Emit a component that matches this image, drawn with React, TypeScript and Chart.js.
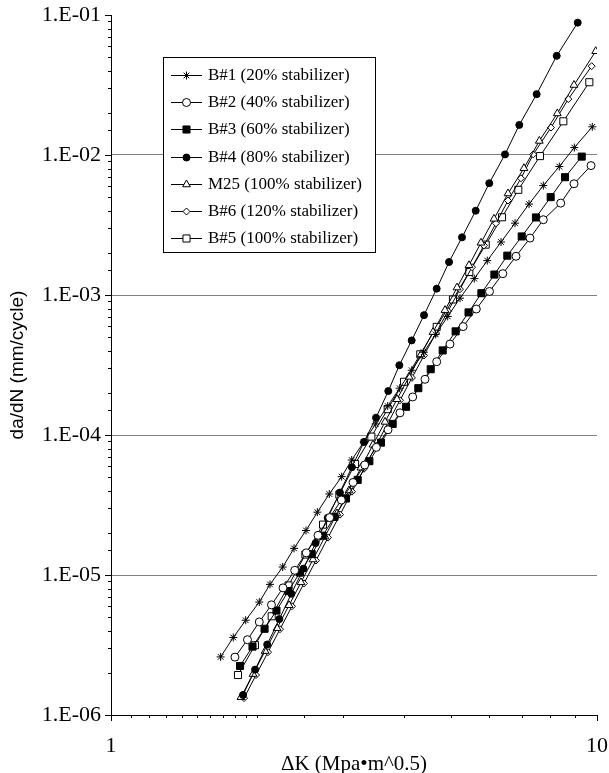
import React, { useEffect, useRef } from 'react';
import { Chart, registerables } from 'chart.js';
import { drawPoint } from 'chart.js/helpers';

Chart.register(...registerables);

// ---------- data ----------
const seriesLabels = [
  'B#1 (20% stabilizer)',
  'B#2 (40% stabilizer)',
  'B#3 (60% stabilizer)',
  'B#4 (80% stabilizer)',
  'M25 (100% stabilizer)',
  'B#6 (120% stabilizer)',
  'B#5 (100% stabilizer)',
];

const b1X = [1.681, 1.785, 1.893, 2.019, 2.124, 2.256, 2.38, 2.519, 2.658, 2.813, 2.983, 3.128, 3.311, 3.504, 3.71, 3.926, 4.156, 4.4, 4.657, 4.93, 5.225, 5.591, 5.946, 6.346, 6.782, 7.246, 7.754, 8.364, 8.982, 9.779];
const b1Y = [2.6e-6, 3.58e-6, 4.75e-6, 6.41e-6, 8.57e-6, 1.14e-5, 1.55e-5, 2.08e-5, 2.81e-5, 3.79e-5, 5.04e-5, 6.63e-5, 8.9e-5, 1.2e-4, 1.61e-4, 2.16e-4, 2.9e-4, 3.9e-4, 5.23e-4, 7.03e-4, 9.49e-4, 1.31e-3, 1.76e-3, 2.39e-3, 3.26e-3, 4.46e-3, 6.05e-3, 8.27e-3, 1.13e-2, 1.59e-2];

const b2X = [1.799, 1.909, 2.019, 2.139, 2.259, 2.388, 2.522, 2.667, 2.818, 2.978, 3.148, 3.327, 3.515, 3.715, 3.932, 4.176, 4.427, 4.679, 4.982, 5.303, 5.645, 6.009, 6.401, 6.813, 7.28, 7.754, 8.42, 8.968, 9.72];
const b2Y = [2.59e-6, 3.45e-6, 4.62e-6, 6.12e-6, 8.09e-6, 1.08e-5, 1.44e-5, 1.92e-5, 2.57e-5, 3.43e-5, 4.58e-5, 6.11e-5, 8.16e-5, 1.09e-4, 1.44e-4, 1.87e-4, 2.5e-4, 3.34e-4, 4.46e-4, 5.95e-4, 7.94e-4, 1.06e-3, 1.42e-3, 1.89e-3, 2.55e-3, 3.45e-3, 4.53e-3, 6.23e-3, 8.4e-3];

const b3X = [1.843, 1.955, 2.07, 2.19, 2.317, 2.448, 2.588, 2.727, 2.883, 3.045, 3.218, 3.401, 3.594, 3.798, 4.046, 4.289, 4.548, 4.814, 5.118, 5.441, 5.783, 6.15, 6.538, 7.0, 7.489, 8.029, 8.594, 9.301];
const b3Y = [2.24e-6, 3.08e-6, 4.13e-6, 5.57e-6, 7.68e-6, 1.04e-5, 1.41e-5, 1.91e-5, 2.6e-5, 3.52e-5, 4.78e-5, 6.5e-5, 8.82e-5, 1.2e-4, 1.59e-4, 2.16e-4, 2.95e-4, 4.02e-4, 5.5e-4, 7.51e-4, 1.03e-3, 1.4e-3, 1.91e-3, 2.62e-3, 3.58e-3, 5.0e-3, 6.94e-3, 9.74e-3];

const b4X = [1.869, 1.979, 2.096, 2.22, 2.35, 2.489, 2.636, 2.792, 2.957, 3.131, 3.316, 3.51, 3.72, 3.92, 4.156, 4.406, 4.679, 4.961, 5.275, 5.629, 6.002, 6.467, 6.92, 7.513, 8.262, 9.127];
const b4Y = [1.39e-6, 2.11e-6, 3.19e-6, 4.84e-6, 7.34e-6, 1.11e-5, 1.69e-5, 2.56e-5, 3.88e-5, 5.89e-5, 8.93e-5, 1.33e-4, 2.06e-4, 3.15e-4, 4.74e-4, 7.18e-4, 1.11e-3, 1.72e-3, 2.58e-3, 4.0e-3, 6.29e-3, 1.01e-2, 1.64e-2, 2.72e-2, 5.11e-2, 8.82e-2];

const m25X = [1.851, 1.96, 2.075, 2.196, 2.325, 2.46, 2.604, 2.756, 2.917, 3.088, 3.269, 3.46, 3.663, 3.877, 4.104, 4.344, 4.598, 4.867, 5.152, 5.453, 5.771, 6.139, 6.56, 7.075, 7.608, 8.286, 8.968, 9.938];
const m25Y = [1.34e-6, 1.96e-6, 2.86e-6, 4.17e-6, 6.08e-6, 8.86e-6, 1.29e-5, 1.88e-5, 2.75e-5, 4.01e-5, 5.84e-5, 8.52e-5, 1.24e-4, 1.8e-4, 2.6e-4, 3.76e-4, 5.43e-4, 7.79e-4, 1.13e-3, 1.63e-3, 2.36e-3, 3.5e-3, 5.31e-3, 8.04e-3, 1.26e-2, 1.98e-2, 3.16e-2, 5.51e-2];

const b6X = [1.878, 1.988, 2.104, 2.227, 2.357, 2.495, 2.641, 2.796, 2.96, 3.133, 3.316, 3.51, 3.715, 3.932, 4.162, 4.406, 4.664, 4.936, 5.225, 5.531, 5.853, 6.197, 6.56, 6.975, 7.393, 8.041, 8.729, 9.752];
const b6Y = [1.32e-6, 1.93e-6, 2.81e-6, 4.1e-6, 5.98e-6, 8.71e-6, 1.27e-5, 1.85e-5, 2.7e-5, 3.94e-5, 5.74e-5, 8.38e-5, 1.22e-4, 1.77e-4, 2.56e-4, 3.7e-4, 5.35e-4, 7.67e-4, 1.1e-3, 1.58e-3, 2.26e-3, 3.25e-3, 4.73e-3, 6.82e-3, 1.01e-2, 1.57e-2, 2.51e-2, 4.31e-2];

const b5X = [1.825, 1.978, 2.141, 2.319, 2.512, 2.731, 2.95, 3.178, 3.433, 3.71, 4.008, 4.329, 4.679, 5.054, 5.461, 5.902, 6.376, 6.888, 7.633, 8.526, 9.643];
const b5Y = [1.93e-6, 3.15e-6, 5.07e-6, 8.43e-6, 1.4e-5, 2.29e-5, 3.75e-5, 6.21e-5, 9.74e-5, 1.53e-4, 2.4e-4, 3.77e-4, 5.92e-4, 9.29e-4, 1.46e-3, 2.29e-3, 3.59e-3, 5.64e-3, 9.82e-3, 1.74e-2, 3.31e-2];

const seriesX = [b1X, b2X, b3X, b4X, m25X, b6X, b5X];
const seriesY = [b1Y, b2Y, b3Y, b4Y, m25Y, b6Y, b5Y];

const xTickLabels = ['1', '10'];
const yTickLabels = ['1.E-06', '1.E-05', '1.E-04', '1.E-03', '1.E-02', '1.E-01'];
const xTitle = '\u0394K (Mpa\u2022m^0.5)';
const yTitle = 'da/dN (mm/cycle)';

// ---------- styles ----------
const SERIF = "'Liberation Serif', 'Times New Roman', serif";
const SANS = "'Liberation Sans', Arial, sans-serif";

const markerStyles: { pointStyle: any; radius: number; fill: string }[] = [
  { pointStyle: 'star', radius: 4, fill: '#000' },
  { pointStyle: 'circle', radius: 4, fill: '#fff' },
  { pointStyle: 'rect', radius: 5, fill: '#000' },
  { pointStyle: 'circle', radius: 3.5, fill: '#000' },
  { pointStyle: 'triangle', radius: 4.5, fill: '#fff' },
  { pointStyle: 'rectRot', radius: 3.5, fill: '#fff' },
  { pointStyle: 'rect', radius: 5, fill: '#fff' },
];

const isDecade = (v: number) => Math.abs(Math.log10(v) - Math.round(Math.log10(v))) < 1e-9;

const customDraw = {
  id: 'customDraw',
  afterDraw(chart: any) {
    const ctx: CanvasRenderingContext2D = chart.ctx;
    const xs = chart.scales.x;
    const ys = chart.scales.y;
    const area = chart.chartArea;
    ctx.save();
    ctx.strokeStyle = '#000';
    ctx.lineWidth = 1;
    ctx.beginPath();
    for (const t of ys.ticks) {
      const p = Math.round(ys.getPixelForValue(t.value)) + 0.5;
      const len = isDecade(t.value) ? 6 : 3;
      ctx.moveTo(area.left - len, p);
      ctx.lineTo(area.left, p);
    }
    for (const t of xs.ticks) {
      const p = Math.round(xs.getPixelForValue(t.value)) + 0.5;
      const len = isDecade(t.value) ? 6 : 3;
      ctx.moveTo(p, area.bottom);
      ctx.lineTo(p, area.bottom + len);
    }
    ctx.stroke();

    // legend box
    const bx = 163.5, by = 57.5, bw = 212, bh = 195;
    ctx.fillStyle = '#fff';
    ctx.fillRect(bx, by, bw, bh);
    ctx.strokeRect(bx, by, bw, bh);
    const rowStart = 75;
    const rowGap = 27.2;
    ctx.font = `17px ${SERIF}`;
    ctx.textBaseline = 'middle';
    ctx.textAlign = 'left';
    seriesLabels.forEach((label, i) => {
      const y = Math.round(rowStart + i * rowGap) + 0.5;
      ctx.strokeStyle = '#000';
      ctx.lineWidth = 1;
      ctx.beginPath();
      ctx.moveTo(171, y);
      ctx.lineTo(202, y);
      ctx.stroke();
      const st = markerStyles[i];
      ctx.fillStyle = st.fill;
      ctx.strokeStyle = '#000';
      drawPoint(ctx, { pointStyle: st.pointStyle, radius: st.radius, borderWidth: 1, rotation: 0 } as any, 186.5, y);
      ctx.fillStyle = '#000';
      ctx.fillText(label, 208, y);
    });
    ctx.restore();
  },
};

export default function App() {
  const ref = useRef<HTMLCanvasElement | null>(null);
  useEffect(() => {
    if (!ref.current) return;
    const datasets = seriesX.map((xs, i) => ({
      label: seriesLabels[i],
      data: xs.map((x, j) => ({ x, y: seriesY[i][j] })),
      borderColor: '#000',
      borderWidth: 1,
      showLine: true,
      fill: false,
      tension: 0,
      pointStyle: markerStyles[i].pointStyle,
      pointRadius: markerStyles[i].radius,
      pointBackgroundColor: markerStyles[i].fill,
      pointBorderColor: '#000',
      pointBorderWidth: 1,
    }));
    const chart = new Chart(ref.current, {
      type: 'scatter',
      data: { datasets },
      options: {
        animation: false,
        responsive: true,
        maintainAspectRatio: false,
        events: [],
        layout: { padding: { top: 15, right: 12, left: 0, bottom: 0 } },
        plugins: { legend: { display: false }, tooltip: { enabled: false } },
        scales: {
          x: {
            type: 'logarithmic',
            position: 'bottom',
            min: 1,
            max: 10,
            grid: { display: false },
            border: { display: true, color: '#000', width: 1 },
            ticks: {
              autoSkip: false,
              maxRotation: 0,
              padding: 1,
              color: '#000',
              font: { family: SERIF, size: 22, lineHeight: 2.05 },
              callback: (v: any) => (isDecade(Number(v)) ? xTickLabels[Math.round(Math.log10(Number(v)))] : ''),
            },
            title: {
              display: true,
              text: xTitle,
              color: '#000',
              font: { family: SERIF, size: 21, lineHeight: 1 },
              padding: { top: 0, bottom: -2 },
            },
            afterFit: (s: any) => {
              s.height = 58;
            },
          },
          y: {
            type: 'logarithmic',
            min: 1e-6,
            max: 1e-1,
            grid: {
              drawTicks: false,
              lineWidth: 1,
              color: (c: any) => {
                const v = c.tick ? c.tick.value : 0;
                return v && isDecade(v) && v > 1.5e-6 && v < 0.09 ? '#808080' : 'rgba(0,0,0,0)';
              },
            },
            border: { display: true, color: '#000', width: 1 },
            ticks: {
              autoSkip: false,
              padding: 10,
              color: '#000',
              font: { family: SERIF, size: 22, lineHeight: 0.4 },
              callback: (v: any) => (isDecade(Number(v)) ? yTickLabels[Math.round(Math.log10(Number(v))) + 6] : ''),
            },
            title: {
              display: true,
              text: yTitle,
              color: '#000',
              font: { family: SANS, size: 19, lineHeight: 1 },
              padding: { top: 8, bottom: 0 },
            },
            afterFit: (s: any) => {
              s.width = 111;
            },
          },
        },
      } as any,
      plugins: [customDraw],
    });
    return () => chart.destroy();
  }, []);
  return (
    <div style={{ position: 'fixed', left: 0, top: 0, width: 609, height: 773, background: '#fff' }}>
      <canvas ref={ref} />
    </div>
  );
}
